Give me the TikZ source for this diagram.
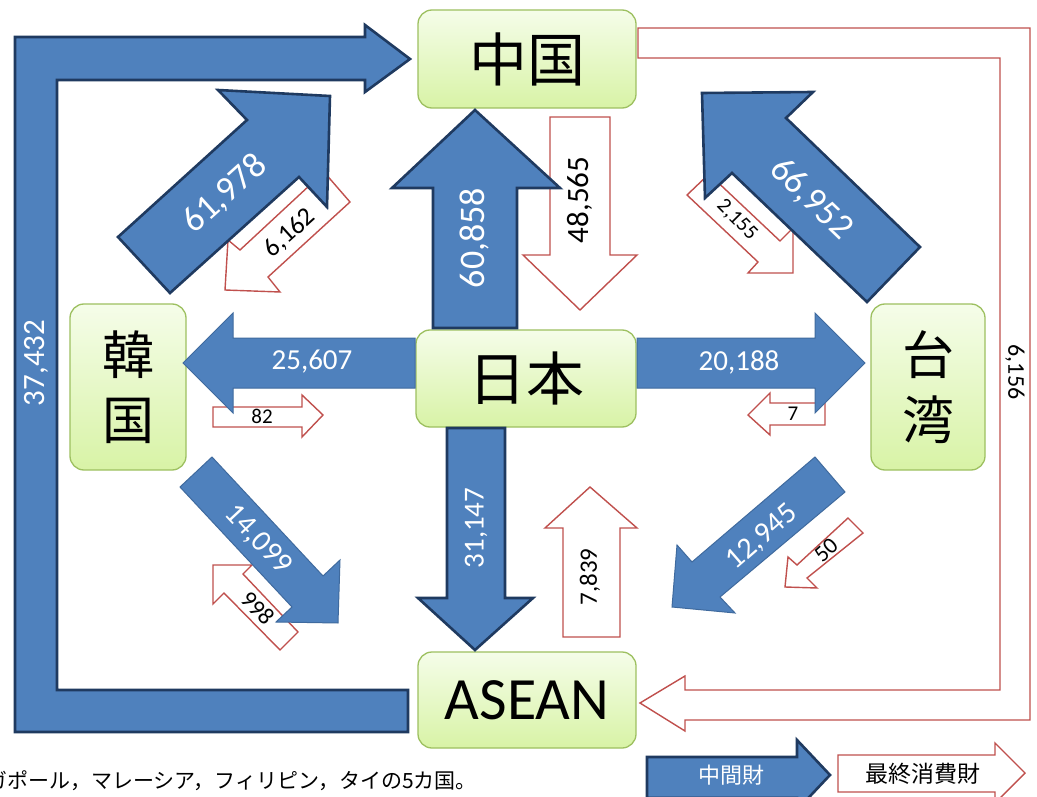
\documentclass[tikz,border=0pt]{standalone}
\usepackage{fontspec}
\setmainfont{Carlito}
\newfontfamily\jp{Noto Sans CJK JP}
\newcommand\fsz[1]{\fontsize{#1}{#1}\selectfont}
\definecolor{arrblue}{HTML}{4F81BD}
\definecolor{arrdark}{HTML}{1F3A60}
\definecolor{arrthin}{HTML}{3F6A9E}
\definecolor{arrred}{HTML}{C0504D}
\definecolor{boxline}{HTML}{9DC060}
\definecolor{boxtop}{HTML}{F5FDE9}
\definecolor{boxbot}{HTML}{D8F3A6}
\tikzset{
  cbox/.style={draw=boxline, line width=1.3pt, rounded corners=14pt, top color=boxtop, bottom color=boxbot, inner sep=0pt, align=center},
  bluearr/.style={fill=arrblue, draw=arrdark, line width=2.6pt, line join=miter},
  bluethin/.style={fill=arrblue, draw=arrthin, line width=1pt, line join=miter},
  redarr/.style={fill=white, draw=arrred, line width=1.4pt, line join=miter},
  wlbl/.style={text=white, inner sep=0pt},
  blbl/.style={text=black, inner sep=0pt}
}
\begin{document}
\begin{tikzpicture}[x=1pt,y=-1pt]
\useasboundingbox (0,0) rectangle (1037,797);
\fill[white] (0,0) rectangle (1037,797);

% nodes
\node[cbox, minimum width=218pt, minimum height=98pt, font=\jp\fsz{58}] (cn) at (527,59) {中国};
\node[cbox, minimum width=220pt, minimum height=97pt, font=\jp\fsz{58}] (jp) at (526,378.5) {日本};
\node[cbox, minimum width=116pt, minimum height=166pt, font=\jp\fontsize{52}{65}\selectfont] (kr) at (128,387) {韓\\国};
\node[cbox, minimum width=114pt, minimum height=166pt, font=\jp\fontsize{52}{65}\selectfont] (tw) at (928,387) {台\\湾};
\node[cbox, minimum width=218pt, minimum height=96pt, font=\fsz{60}] (as) at (527,700) {ASEAN};

% red (final goods) arrows
\draw[redarr] (638,28)--(1030,28)--(1030,720)--(685,720)--(685,731)--(640,703)--(685,676)--(685,690)--(1000,690)--(1000,58)--(638,58)--cycle;
\draw[redarr] (324,172)--(350,202)--(268,277)--(280,292)--(225,290)--(228,240)--(240,250)--cycle;
\draw[redarr] (550,117)--(610,117)--(610,255)--(637,255)--(580,310)--(523,255)--(550,255)--cycle;
\draw[redarr] (687,195)--(709,174)--(780,241)--(793,228)--(793,273)--(748,273)--(758,262)--cycle;
\draw[redarr] (213,407)--(302,407)--(302,395)--(323,415)--(302,437)--(302,427)--(213,427)--cycle;
\draw[redarr] (825,403)--(825,425)--(770,425)--(770,435)--(748,415)--(770,393)--(770,403)--cycle;
\draw[redarr] (563,637)--(563,528)--(545,528)--(590,487)--(637,528)--(620,528)--(620,637)--cycle;
\draw[redarr] (213,565)--(252,565)--(243,574)--(298,632)--(280,650)--(224,593)--(213,604)--cycle;
\draw[redarr] (848,518)--(863,533)--(807,578)--(817,588)--(785,587)--(788,557)--(797,565)--cycle;

% blue (intermediate goods) arrows
\draw[bluearr] (15,37)--(365,37)--(365,25)--(410,59)--(365,92)--(365,80)--(57,80)--(57,690)--(408,690)--(408,732)--(15,732)--cycle;
\draw[bluearr] (118,237)--(247,120)--(218,90)--(330,96)--(327,207)--(299,177)--(170,293)--cycle;
\draw[bluearr] (433,328)--(433,188)--(392,188)--(475,110)--(560,188)--(517,188)--(517,328)--cycle;
\draw[bluearr] (702,93)--(813,92)--(786,118)--(920,247)--(867,302)--(732,173)--(705,198)--cycle;
\draw[bluethin] (415,338)--(233,338)--(233,313)--(183,363)--(233,413)--(233,388)--(415,388)--cycle;
\draw[bluethin] (637,338)--(815,338)--(815,313)--(865,363)--(815,413)--(815,388)--(637,388)--cycle;
\draw[bluearr] (447,428)--(505,428)--(505,598)--(533,598)--(475,650)--(418,598)--(447,598)--cycle;
\draw[bluethin] (212,457)--(323,576)--(340,560)--(338,623)--(276,622)--(292,607)--(180,487)--cycle;
\draw[bluethin] (815,457)--(845,492)--(720,597)--(735,613)--(672,607)--(677,545)--(692,562)--cycle;

% labels
\node[wlbl, rotate=90, font=\fsz{31}] (v37432) at (36,363) {37,432};
\node[blbl, rotate=-90, font=\fsz{24}] (v6156) at (1015,372) {6,156};
\node[wlbl, rotate=42, font=\fsz{36}] (v61978) at (225,194) {61,978};
\node[blbl, rotate=42, font=\fsz{26}] (v6162) at (290,233) {6,162};
\node[wlbl, rotate=90, font=\fsz{36}] (v60858) at (475,238) {60,858};
\node[blbl, rotate=90, font=\fsz{31}] (v48565) at (580,200) {48,565};
\node[wlbl, rotate=-44, font=\fsz{36}] (v66952) at (811,199) {66,952};
\node[blbl, rotate=-45, font=\fsz{21}] (v2155) at (737,220) {2,155};
\node[wlbl, font=\fsz{29}] (v25607) at (312,362) {25,607};
\node[blbl, font=\fsz{21}] (v82) at (262,416) {82};
\node[wlbl, font=\fsz{29}] (v20188) at (739,362) {20,188};
\node[blbl, font=\fsz{21}] (v7) at (793,414) {7};
\node[wlbl, rotate=90, font=\fsz{29}] (v31147) at (476,528) {31,147};
\node[blbl, rotate=90, font=\fsz{25}] (v7839) at (590,577) {7,839};
\node[wlbl, rotate=-47, font=\fsz{30}] (v14099) at (258,540) {14,099};
\node[blbl, rotate=-47, font=\fsz{24}] (v998) at (258,608) {998};
\node[wlbl, rotate=41, font=\fsz{30}] (v12945) at (762,537) {12,945};
\node[blbl, rotate=42, font=\fsz{23}] (v50) at (826,550) {50};

% legend
\draw[bluearr] (647,757)--(797,757)--(797,740)--(830,775)--(797,810)--(797,798)--(647,798)--cycle;
\draw[redarr] (838,755)--(995,755)--(995,743)--(1025,773)--(995,803)--(995,792)--(838,792)--cycle;
\node[wlbl, font=\jp\fsz{22}] (lgmid) at (731,775) {中間財};
\node[blbl, font=\jp\fsz{23}] (lgfin) at (923,774) {最終消費財};

% note
\node[anchor=west, inner sep=0pt, font=\jp\fsz{21}] (note) at (-14,781) {ガポール，マレーシア，フィリピン，タイの5カ国。};
\end{tikzpicture}
\end{document}
